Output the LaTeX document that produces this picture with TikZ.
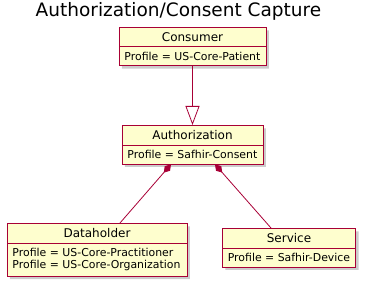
\documentclass[tikz,border=0pt]{standalone}
\usepackage{fontspec}
\setmainfont{DejaVu Sans}
\usetikzlibrary{shapes.multipart, arrows.meta, shadows}
\definecolor{clsFill}{HTML}{FEFECE}
\definecolor{clsStroke}{HTML}{A80036}
\tikzset{
  uml/.style = {
    x=1pt, y=-1pt,
  },
  cls/.style = {
    rectangle split, rectangle split parts=2, draw=clsStroke, fill=clsFill,
    line width=0.8pt, rectangle split part align={center,left}, align=left,
    inner xsep=5.5pt, inner ysep=4.8pt,
    font=\fontsize{10.9}{12}\selectfont,
    drop shadow={shadow xshift=3pt, shadow yshift=-3pt, fill=black!40, opacity=0.5},
  },
  title/.style = {font=\fontsize{18.5}{21}\selectfont, anchor=base, inner sep=0pt},
  inh/.style = {draw=clsStroke, line width=0.8pt,
    -{Triangle[open, length=19pt, width=14pt, fill=white]}},
  comp/.style = {draw=clsStroke, line width=0.8pt,
    {Diamond[length=11pt, width=7pt]}-},
}

\begin{document}
\begin{tikzpicture}[uml]
\useasboundingbox (0,0) rectangle (368,286);

\node[title] (ttl) at (178.5,17) {Authorization/Consent Capture};

\node[cls, minimum width=147pt, anchor=north] (cons) at (192.5,27)
  {\fontsize{12}{12}\selectfont Consumer
   \nodepart{two} Profile = US-Core-Patient};
\node[cls, minimum width=141pt, anchor=north] (auth) at (192.5,125)
  {\fontsize{12}{12}\selectfont Authorization
   \nodepart{two} Profile = Safhir-Consent};
\node[cls, minimum width=180pt, anchor=north] (dh) at (97,223)
  {\fontsize{12}{12}\selectfont Dataholder
   \nodepart{two} Profile = US-Core-Practitioner\\Profile = US-Core-Organization};
\node[cls, minimum width=132pt, anchor=north] (svc) at (289,228)
  {\fontsize{12}{12}\selectfont Service
   \nodepart{two} Profile = Safhir-Device};

\draw[inh] (cons.south) -- (auth.north);
\draw[comp] ([xshift=-21.5pt]auth.south) -- ([xshift=23pt]dh.north);
\draw[comp] ([xshift=22.5pt]auth.south) -- ([xshift=-18pt]svc.north);

\end{tikzpicture}
\end{document}
